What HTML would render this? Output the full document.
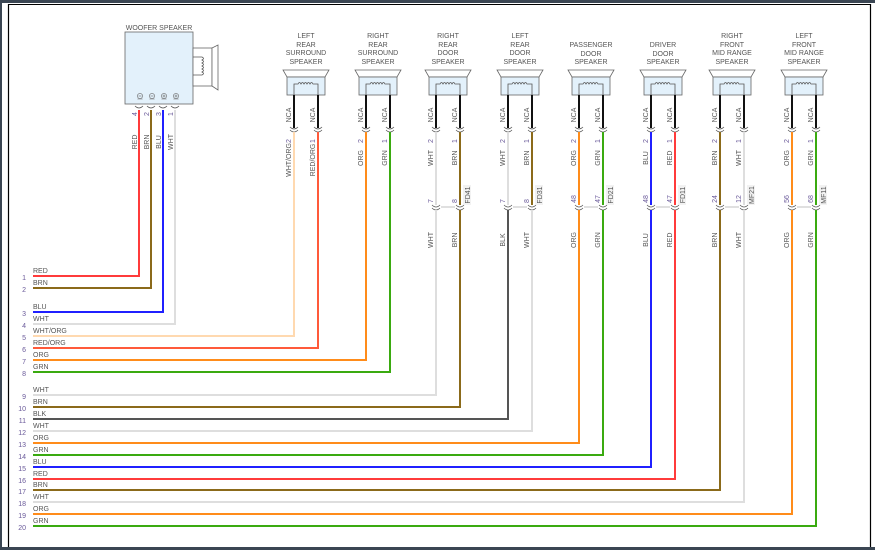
<!DOCTYPE html>
<html><head><meta charset="utf-8"><style>
html,body{margin:0;padding:0;background:#fff;}
svg{display:block;}
text{font-family:"Liberation Sans",sans-serif;}
.l{font-size:7px;fill:#555;}
.n{font-size:7px;fill:#6a5a9a;}
.t{font-size:7px;fill:#555;text-anchor:middle;}
.c{stroke:#555;fill:none;stroke-width:0.8;}
</style></head><body>
<svg width="875" height="550" viewBox="0 0 875 550" xmlns="http://www.w3.org/2000/svg">
<rect x="0" y="0" width="875" height="3" fill="#3b4653"/>
<rect x="0" y="547" width="875" height="3" fill="#3b4653"/>
<rect x="0" y="0" width="2" height="550" fill="#3b4653"/>
<line x1="8.5" y1="4" x2="8.5" y2="547" stroke="#000" stroke-width="1.2"/>
<line x1="8" y1="4.5" x2="871" y2="4.5" stroke="#000" stroke-width="1"/>
<line x1="870.5" y1="4" x2="870.5" y2="547" stroke="#000" stroke-width="1.2"/>

<defs>
<g id="spk">
<polygon points="-23,70 23,70 19,77 -19,77" fill="#fff" stroke="#666" stroke-width="0.8"/>
<rect x="-19" y="77" width="38" height="18" fill="#e3f1fb" stroke="#666" stroke-width="0.8"/>
<path d="M-12 95 V84 H-8 q1.5 -3 3 0 q1.5 -3 3 0 q1.5 -3 3 0 q1.5 -3 3 0 q1.5 -3 3 0 H12 V95" fill="none" stroke="#555" stroke-width="0.8"/>
<line x1="-12" y1="95" x2="-12" y2="128" stroke="#111" stroke-width="2"/>
<line x1="12" y1="95" x2="12" y2="128" stroke="#111" stroke-width="2"/>
<path class="c" d="M-16 127 q4 4 8 0 M-16 130 q4 4 8 0 M8 127 q4 4 8 0 M8 130 q4 4 8 0"/>
<text class="l" transform="translate(-15,115) rotate(-90)" text-anchor="middle">NCA</text>
<text class="l" transform="translate(9,115) rotate(-90)" text-anchor="middle">NCA</text>
<text class="n" transform="translate(-15,141) rotate(-90)" text-anchor="middle">2</text>
<text class="n" transform="translate(9,141) rotate(-90)" text-anchor="middle">1</text>
</g>
<g id="inl">
<path class="c" d="M-16 205 q4 4 8 0 M-16 208 q4 4 8 0 M8 205 q4 4 8 0 M8 208 q4 4 8 0"/>
<line x1="-7" y1="207" x2="7" y2="207" stroke="#999" stroke-width="0.6"/>
</g>
<g id="minus"><circle r="2.6" fill="none" stroke="#666" stroke-width="0.6"/><line x1="-1.5" x2="1.5" y1="0" y2="0" stroke="#666" stroke-width="0.6"/><line x1="-2.6" x2="2.6" y1="3" y2="3" stroke="#666" stroke-width="0.5"/></g>
<g id="plus"><circle r="2.6" fill="none" stroke="#666" stroke-width="0.6"/><line x1="-1.5" x2="1.5" y1="0" y2="0" stroke="#666" stroke-width="0.6"/><line x1="0" x2="0" y1="-1.5" y2="1.5" stroke="#666" stroke-width="0.6"/><line x1="-2.6" x2="2.6" y1="3" y2="3" stroke="#666" stroke-width="0.5"/></g>
</defs>

<!-- Woofer -->
<text class="t" x="159" y="30">WOOFER SPEAKER</text>
<rect x="125" y="32" width="68" height="72" fill="#e3f1fb" stroke="#666" stroke-width="0.8"/>
<rect x="193" y="48" width="19" height="38" fill="#fff" stroke="#666" stroke-width="0.8"/>
<polygon points="212,48 218,45 218,90 212,86" fill="#fff" stroke="#666" stroke-width="0.8"/>
<path d="M193 57 H202 q3 1.5 0 3 q3 1.5 0 3 q3 1.5 0 3 q3 1.5 0 3 q3 1.5 0 3 q3 1.5 0 3 H193" fill="none" stroke="#555" stroke-width="0.8"/>
<use href="#minus" x="140" y="96"/><use href="#minus" x="152" y="96"/><use href="#plus" x="164" y="96"/><use href="#plus" x="176" y="96"/>
<path class="c" d="M135 106 q4 4 8 0 M147 106 q4 4 8 0 M159 106 q4 4 8 0 M171 106 q4 4 8 0"/>
<text class="n" transform="translate(137,114) rotate(-90)" text-anchor="middle">4</text>
<text class="n" transform="translate(149,114) rotate(-90)" text-anchor="middle">2</text>
<text class="n" transform="translate(161,114) rotate(-90)" text-anchor="middle">3</text>
<text class="n" transform="translate(173,114) rotate(-90)" text-anchor="middle">1</text>
<text class="l" transform="translate(137,142) rotate(-90)" text-anchor="middle">RED</text>
<text class="l" transform="translate(149,142) rotate(-90)" text-anchor="middle">BRN</text>
<text class="l" transform="translate(161,142) rotate(-90)" text-anchor="middle">BLU</text>
<text class="l" transform="translate(173,142) rotate(-90)" text-anchor="middle">WHT</text>

<!-- Titles -->
<text class="t" x="306" y="38">LEFT</text><text class="t" x="306" y="47">REAR</text><text class="t" x="306" y="55">SURROUND</text><text class="t" x="306" y="64">SPEAKER</text>
<text class="t" x="378" y="38">RIGHT</text><text class="t" x="378" y="47">REAR</text><text class="t" x="378" y="55">SURROUND</text><text class="t" x="378" y="64">SPEAKER</text>
<text class="t" x="448" y="38">RIGHT</text><text class="t" x="448" y="47">REAR</text><text class="t" x="448" y="55">DOOR</text><text class="t" x="448" y="64">SPEAKER</text>
<text class="t" x="520" y="38">LEFT</text><text class="t" x="520" y="47">REAR</text><text class="t" x="520" y="55">DOOR</text><text class="t" x="520" y="64">SPEAKER</text>
<text class="t" x="591" y="47">PASSENGER</text><text class="t" x="591" y="56">DOOR</text><text class="t" x="591" y="64">SPEAKER</text>
<text class="t" x="663" y="47">DRIVER</text><text class="t" x="663" y="56">DOOR</text><text class="t" x="663" y="64">SPEAKER</text>
<text class="t" x="732" y="38">RIGHT</text><text class="t" x="732" y="47">FRONT</text><text class="t" x="732" y="55">MID RANGE</text><text class="t" x="732" y="64">SPEAKER</text>
<text class="t" x="804" y="38">LEFT</text><text class="t" x="804" y="47">FRONT</text><text class="t" x="804" y="55">MID RANGE</text><text class="t" x="804" y="64">SPEAKER</text>

<use href="#spk" x="306"/><use href="#spk" x="378"/><use href="#spk" x="448"/><use href="#spk" x="520"/>
<use href="#spk" x="591"/><use href="#spk" x="663"/><use href="#spk" x="732"/><use href="#spk" x="804"/>
<use href="#inl" x="448"/><use href="#inl" x="520"/><use href="#inl" x="591"/><use href="#inl" x="663"/><use href="#inl" x="732"/><use href="#inl" x="804"/>

<!-- Wires -->
<g fill="none" stroke-width="2">
<path d="M139 110 V276 H33" stroke="#ff3b3b"/>
<path d="M151 110 V288 H33" stroke="#8b6a1a"/>
<path d="M163 110 V312 H33" stroke="#2020ff"/>
<path d="M175 110 V324 H33" stroke="#dedede"/>
<path d="M294 132 V336 H33" stroke="#ffd9b0"/>
<path d="M318 132 V348 H33" stroke="#ff5a3a"/>
<path d="M366 132 V360 H33" stroke="#ff8c1a"/>
<path d="M390 132 V372 H33" stroke="#3aaa10"/>
<path d="M436 132 V205" stroke="#dedede"/><path d="M436 210 V395 H33" stroke="#dedede"/>
<path d="M460 132 V205" stroke="#8b6a1a"/><path d="M460 210 V407 H33" stroke="#8b6a1a"/>
<path d="M508 132 V205" stroke="#dedede"/><path d="M508 210 V419 H33" stroke="#555"/>
<path d="M532 132 V205" stroke="#8b6a1a"/><path d="M532 210 V431 H33" stroke="#dedede"/>
<path d="M579 132 V205" stroke="#ff8c1a"/><path d="M579 210 V443 H33" stroke="#ff8c1a"/>
<path d="M603 132 V205" stroke="#3aaa10"/><path d="M603 210 V455 H33" stroke="#3aaa10"/>
<path d="M651 132 V205" stroke="#2020ff"/><path d="M651 210 V467 H33" stroke="#2020ff"/>
<path d="M675 132 V205" stroke="#ff3b3b"/><path d="M675 210 V479 H33" stroke="#ff3b3b"/>
<path d="M720 132 V205" stroke="#8b6a1a"/><path d="M720 210 V490 H33" stroke="#8b6a1a"/>
<path d="M744 132 V205" stroke="#dedede"/><path d="M744 210 V502 H33" stroke="#dedede"/>
<path d="M792 132 V205" stroke="#ff8c1a"/><path d="M792 210 V514 H33" stroke="#ff8c1a"/>
<path d="M816 132 V205" stroke="#3aaa10"/><path d="M816 210 V526 H33" stroke="#3aaa10"/>
</g>

<!-- Upper vertical labels -->
<g class="l" text-anchor="middle">
<text transform="translate(291,160) rotate(-90)">WHT/ORG</text>
<text transform="translate(315,160) rotate(-90)">RED/ORG</text>
<text transform="translate(363,158) rotate(-90)">ORG</text>
<text transform="translate(387,158) rotate(-90)">GRN</text>
<text transform="translate(433,158) rotate(-90)">WHT</text>
<text transform="translate(457,158) rotate(-90)">BRN</text>
<text transform="translate(505,158) rotate(-90)">WHT</text>
<text transform="translate(529,158) rotate(-90)">BRN</text>
<text transform="translate(576,158) rotate(-90)">ORG</text>
<text transform="translate(600,158) rotate(-90)">GRN</text>
<text transform="translate(648,158) rotate(-90)">BLU</text>
<text transform="translate(672,158) rotate(-90)">RED</text>
<text transform="translate(717,158) rotate(-90)">BRN</text>
<text transform="translate(741,158) rotate(-90)">WHT</text>
<text transform="translate(789,158) rotate(-90)">ORG</text>
<text transform="translate(813,158) rotate(-90)">GRN</text>
<!-- lower -->
<text transform="translate(433,240) rotate(-90)">WHT</text>
<text transform="translate(457,240) rotate(-90)">BRN</text>
<text transform="translate(505,240) rotate(-90)">BLK</text>
<text transform="translate(529,240) rotate(-90)">WHT</text>
<text transform="translate(576,240) rotate(-90)">ORG</text>
<text transform="translate(600,240) rotate(-90)">GRN</text>
<text transform="translate(648,240) rotate(-90)">BLU</text>
<text transform="translate(672,240) rotate(-90)">RED</text>
<text transform="translate(717,240) rotate(-90)">BRN</text>
<text transform="translate(741,240) rotate(-90)">WHT</text>
<text transform="translate(789,240) rotate(-90)">ORG</text>
<text transform="translate(813,240) rotate(-90)">GRN</text>
</g>
<!-- inline numbers -->
<g class="n" text-anchor="middle">
<text transform="translate(433,201) rotate(-90)">7</text><text transform="translate(457,201) rotate(-90)">8</text>
<text transform="translate(505,201) rotate(-90)">7</text><text transform="translate(529,201) rotate(-90)">8</text>
<text transform="translate(576,199) rotate(-90)">48</text><text transform="translate(600,199) rotate(-90)">47</text>
<text transform="translate(648,199) rotate(-90)">48</text><text transform="translate(672,199) rotate(-90)">47</text>
<text transform="translate(717,199) rotate(-90)">24</text><text transform="translate(741,199) rotate(-90)">12</text>
<text transform="translate(789,199) rotate(-90)">56</text><text transform="translate(813,199) rotate(-90)">68</text>
</g>
<!-- tags -->
<g class="l" text-anchor="middle">
<rect x="463" y="185" width="8" height="20" fill="#f2f2f2"/><text transform="translate(470,195) rotate(-90)">FD41</text>
<rect x="535" y="185" width="8" height="20" fill="#f2f2f2"/><text transform="translate(542,195) rotate(-90)">FD31</text>
<rect x="606" y="185" width="8" height="20" fill="#f2f2f2"/><text transform="translate(613,195) rotate(-90)">FD21</text>
<rect x="678" y="185" width="8" height="20" fill="#f2f2f2"/><text transform="translate(685,195) rotate(-90)">FD11</text>
<rect x="747" y="185" width="8" height="20" fill="#f2f2f2"/><text transform="translate(754,195) rotate(-90)">MF21</text>
<rect x="819" y="185" width="8" height="20" fill="#f2f2f2"/><text transform="translate(826,195) rotate(-90)">MF11</text>
</g>

<!-- Row labels -->
<g class="l">
<text x="33" y="273">RED</text><text x="33" y="285">BRN</text>
<text x="33" y="309">BLU</text><text x="33" y="321">WHT</text><text x="33" y="333">WHT/ORG</text><text x="33" y="345">RED/ORG</text><text x="33" y="357">ORG</text><text x="33" y="369">GRN</text>
<text x="33" y="392">WHT</text><text x="33" y="404">BRN</text><text x="33" y="416">BLK</text><text x="33" y="428">WHT</text><text x="33" y="440">ORG</text><text x="33" y="452">GRN</text><text x="33" y="464">BLU</text><text x="33" y="476">RED</text><text x="33" y="487">BRN</text><text x="33" y="499">WHT</text><text x="33" y="511">ORG</text><text x="33" y="523">GRN</text>
</g>
<g class="n" text-anchor="end">
<text x="26" y="280">1</text><text x="26" y="292">2</text>
<text x="26" y="316">3</text><text x="26" y="328">4</text><text x="26" y="340">5</text><text x="26" y="352">6</text><text x="26" y="364">7</text><text x="26" y="376">8</text>
<text x="26" y="399">9</text><text x="26" y="411">10</text><text x="26" y="423">11</text><text x="26" y="435">12</text><text x="26" y="447">13</text><text x="26" y="459">14</text><text x="26" y="471">15</text><text x="26" y="483">16</text><text x="26" y="494">17</text><text x="26" y="506">18</text><text x="26" y="518">19</text><text x="26" y="530">20</text>
</g>
</svg>
</body></html>
